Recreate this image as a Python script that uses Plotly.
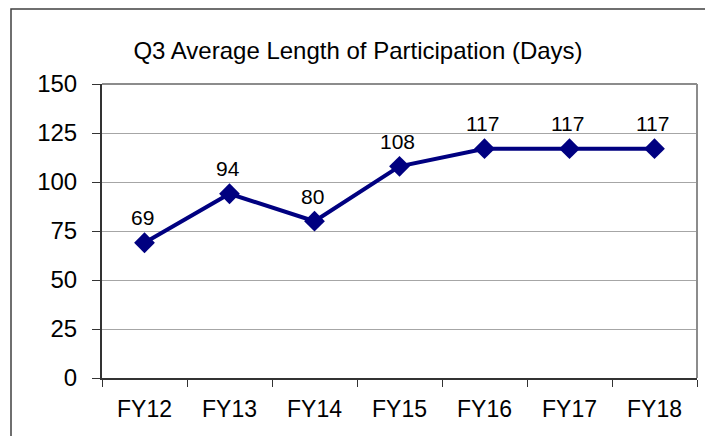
import plotly.graph_objects as go

categories = ["FY12", "FY13", "FY14", "FY15", "FY16", "FY17", "FY18"]
values = [69, 94, 80, 108, 117, 117, 117]
y_ticks = [0, 25, 50, 75, 100, 125, 150]
title_text = "Q3 Average Length of Participation (Days)"

navy = "#000080"
font_family = "Liberation Sans, Arial, sans-serif"

# page has an 8px body margin; figure is sized to fill the rest of the window
W, H = 705, 428
OFF = 8
PL, PR, PT, PB = 102 - OFF, 697 - OFF, 84 - OFF, 378 - OFF  # plot area in figure px

fig = go.Figure()
fig.add_trace(go.Scatter(
    x=categories, y=values, mode="lines+markers",
    line=dict(color=navy, width=4),
    marker=dict(symbol="diamond", size=16, color=navy),
    hoverinfo="skip", showlegend=False,
))

for c, v in zip(categories, values):
    fig.add_annotation(x=c, y=v, text=str(v), showarrow=False,
                       yshift=25, xshift=-2, yanchor="middle",
                       font=dict(family=font_family, size=21, color="#000000"))

fig.update_layout(
    width=W, height=H,
    margin=dict(l=PL, r=W - PR, t=PT, b=H - PB, pad=0),
    paper_bgcolor="white", plot_bgcolor="white",
    title=dict(text=title_text, x=(358 - OFF) / W, xanchor="center",
               y=1 - (51 - OFF) / H, yanchor="middle",
               font=dict(family=font_family, size=24, color="#000000")),
    xaxis=dict(
        type="category", range=[-0.5, 6.5], tickson="boundaries",
        ticks="outside", ticklen=7, tickcolor="#333333", tickwidth=1,
        showline=True, linecolor="#333333", linewidth=2,
        showgrid=False, zeroline=False,
        tickfont=dict(family=font_family, size=23, color="#000000"),
        ticklabelstandoff=9,
    ),
    yaxis=dict(
        range=[0, 150], tickvals=y_ticks,
        ticks="outside", ticklen=8, tickcolor="#333333", tickwidth=1,
        showline=True, linecolor="#333333", linewidth=2,
        showgrid=True, gridcolor="#a6a6a6", gridwidth=1, zeroline=False,
        tickfont=dict(family=font_family, size=24, color="#000000"),
        ticklabelstandoff=10,
    ),
)

pw = PR - PL
ph = PB - PT
# plot area top and right border (gray)
fig.add_shape(type="line", xref="paper", yref="paper", x0=0, x1=1, y0=1, y1=1,
              line=dict(color="#8c8c8c", width=2))
fig.add_shape(type="line", xref="paper", yref="paper", x0=1, x1=1, y0=0, y1=1,
              line=dict(color="#8c8c8c", width=2))
# outer chart frame (left and top edges visible)
fig.add_shape(type="rect", xref="paper", yref="paper",
              x0=(3 - PL) / pw, x1=(W + 20 - PL) / pw,
              y0=(PB - (H + 20)) / ph, y1=(PB - 1) / ph,
              line=dict(color="#404040", width=1.5), layer="below")

fig.write_html("out.html")
